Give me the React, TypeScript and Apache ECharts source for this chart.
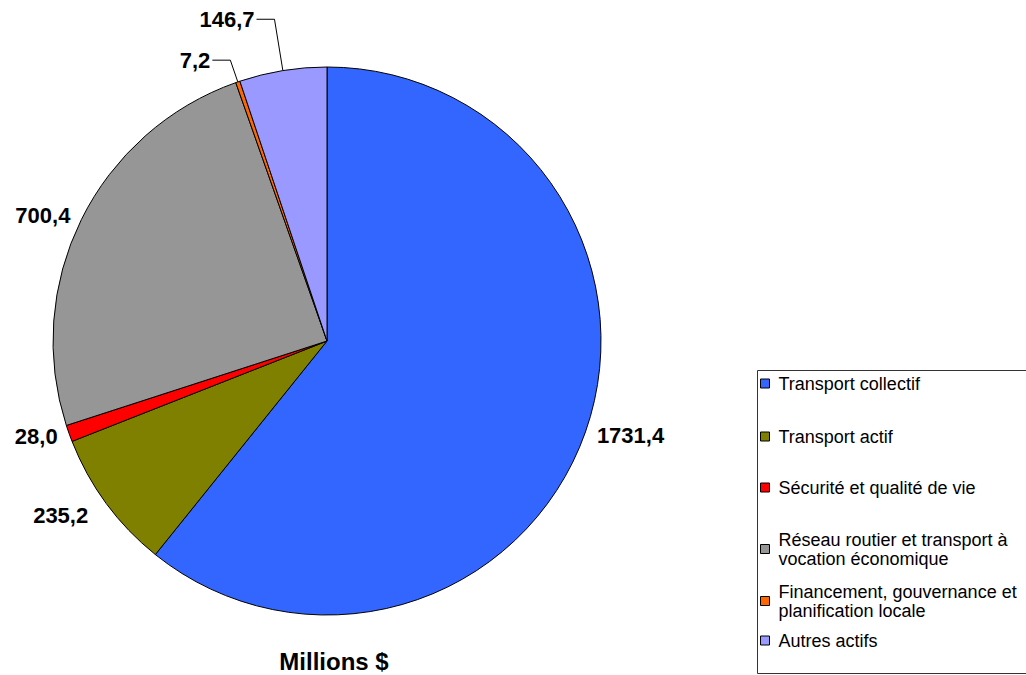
import React, { useEffect, useRef } from "react";
import * as echarts from "echarts";

const categories = [
  "Transport collectif",
  "Transport actif",
  "Sécurité et qualité de vie",
  "Réseau routier et transport à\nvocation économique",
  "Financement, gouvernance et\nplanification locale",
  "Autres actifs",
];
const values = [1731.4, 235.2, 28.0, 700.4, 7.2, 146.7];
const colors = ["#3366FF", "#808000", "#FF0000", "#969696", "#FF6600", "#9999FF"];
const lineLengths = [10, 20, 10, 10, 23, 52];
const lineLengths2 = [0, 0, 0, 0, 18, 18];
const showLines = [false, false, false, false, true, true];
const legendTops = [369, 422, 473, 525, 577, 626];

export default function App() {
  const ref = useRef<HTMLDivElement>(null);
  useEffect(() => {
    if (!ref.current) return;
    const chart = echarts.init(ref.current, null, { renderer: "svg" });
    const font = "Arial, 'Liberation Sans', sans-serif";
    chart.setOption({
      animation: false,
      backgroundColor: "#ffffff",
      title: {
        text: "Millions $",
        left: 329,
        textAlign: "center",
        top: 644,
        textStyle: { fontFamily: font, fontSize: 24, fontWeight: "bold", color: "#000" },
      },
      graphic: [
        {
          type: "rect",
          left: 755,
          top: 368,
          shape: { width: 280, height: 303 },
          style: { fill: "none", stroke: "#333", lineWidth: 1 },
          silent: true,
        },
      ],
      legend: categories.map((name, i) => ({
        data: [name],
        orient: "vertical",
        left: 755,
        top: legendTops[i],
        itemWidth: 9,
        itemHeight: 9,
        icon: "rect",
        itemStyle: { borderColor: "#000", borderWidth: 1 },
        textStyle: {
          fontFamily: font,
          fontSize: 18,
          color: "#000",
          lineHeight: 19,
          padding: [0, 0, 0, 4],
        },
        selectedMode: false,
        align: "left",
      })),
      series: [
        {
          type: "pie",
          center: [327, 341],
          radius: 274,
          startAngle: 90,
          clockwise: true,
          avoidLabelOverlap: false,
          itemStyle: { borderColor: "#000", borderWidth: 1 },
          label: {
            show: true,
            position: "outside",
            fontFamily: font,
            fontSize: 22,
            fontWeight: "bold",
            color: "#000",
            distanceToLabelLine: 2,
            formatter: (p: any) => p.value.toFixed(1).replace(".", ","),
          },
          labelLine: {
            lineStyle: { color: "#000", width: 1 },
          },
          emphasis: { disabled: true },
          data: categories.map((name, i) => ({
            name,
            value: values[i],
            itemStyle: { color: colors[i] },
            labelLine: {
              show: showLines[i],
              length: lineLengths[i],
              length2: lineLengths2[i],
              lineStyle: { color: "#000", width: 1 },
            },
          })),
        },
      ],
    });
    return () => chart.dispose();
  }, []);
  return (
    <div
      ref={ref}
      style={{ position: "fixed", left: 0, top: 0, width: 1026, height: 675 }}
    />
  );
}
